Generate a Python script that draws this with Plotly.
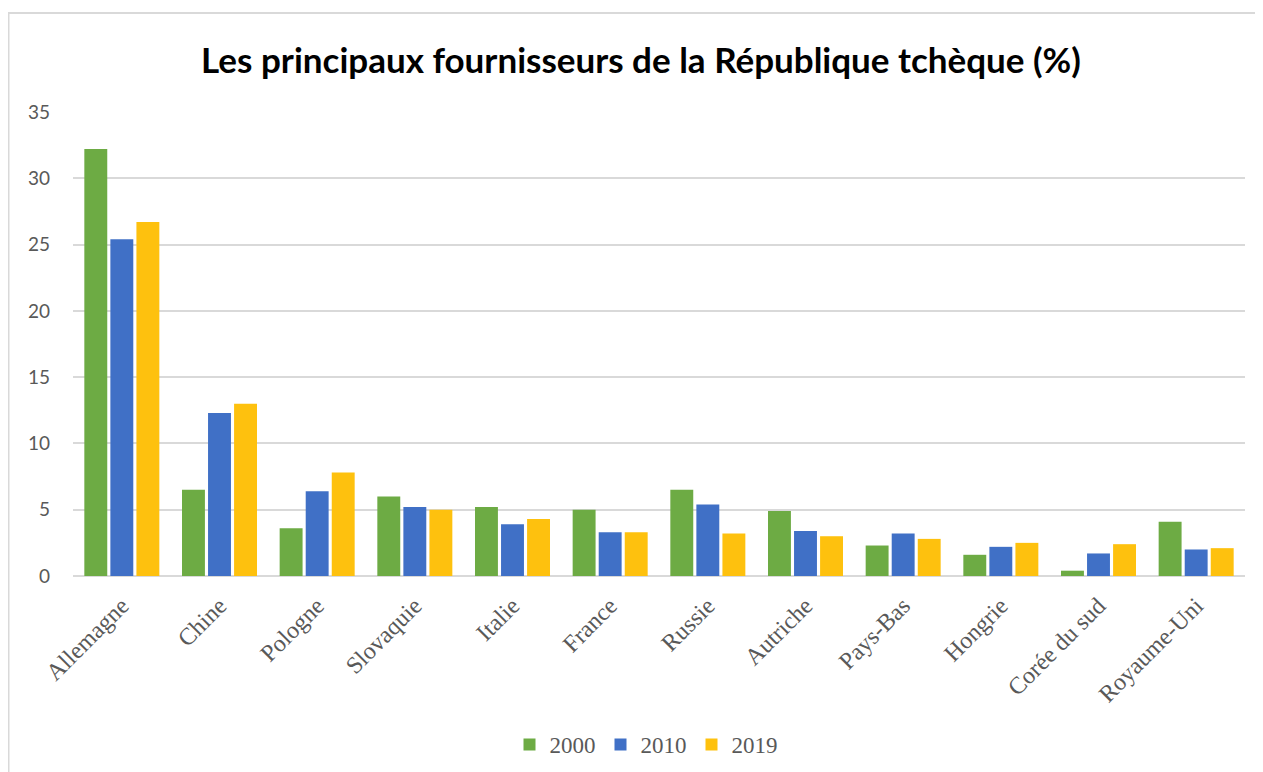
import plotly.graph_objects as go

categories = ["Allemagne", "Chine", "Pologne", "Slovaquie", "Italie", "France",
              "Russie", "Autriche", "Pays-Bas", "Hongrie", "Corée du sud", "Royaume-Uni"]
v2000 = [32.2, 6.5, 3.6, 6.0, 5.2, 5.0, 6.5, 4.9, 2.3, 1.6, 0.4, 4.1]
v2010 = [25.4, 12.3, 6.4, 5.2, 3.9, 3.3, 5.4, 3.4, 3.2, 2.2, 1.7, 2.0]
v2019 = [26.7, 13.0, 7.8, 5.0, 4.3, 3.3, 3.2, 3.0, 2.8, 2.5, 2.4, 2.1]
series_names = ["2000", "2010", "2019"]
colors = ["#6DAB44", "#4070C6", "#FEC10E"]
y_ticks = [0, 5, 10, 15, 20, 25, 30, 35]

fig = go.Figure()
for name, vals, col in zip(series_names, [v2000, v2010, v2019], colors):
    fig.add_trace(go.Bar(x=categories, y=vals, name=name,
                         marker=dict(color=col, line=dict(width=0))))

# page has an 8px body margin; figure coords = page coords - 8
OFF = 8
W, H = 1263, 772
L = 73 - OFF
T = 112 - OFF
R = W - (1245 - OFF)
B = H - (576 - OFF)
pw, ph = W - L - R, H - T - B

def px_x(px):
    return (px - OFF - L) / pw

def px_y(py):
    return (H - B - (py - OFF)) / ph

fig.update_layout(
    width=W, height=H,
    margin=dict(l=L, r=R, t=T, b=B, autoexpand=False),
    paper_bgcolor="white", plot_bgcolor="white",
    barmode="group", bargap=0.2, bargroupgap=0.12,
    title=dict(text="<b>Les principaux fournisseurs de la République tchèque (%)</b>",
               x=px_x(641), xref="paper", xanchor="center",
               y=1 - (61 - OFF) / H, yanchor="middle",
               font=dict(family="Lato, Open Sans, sans-serif", size=35, color="black")),
    xaxis=dict(tickangle=-45,
               tickfont=dict(family="Liberation Serif, Times New Roman, serif",
                             size=24, color="#595959"),
               showgrid=False, showline=False, ticks="", zeroline=False,
               ticklabelstandoff=10),
    yaxis=dict(range=[0, 35], tickvals=y_ticks,
               tickfont=dict(family="Lato, sans-serif", size=19, color="#595959"),
               showgrid=True, gridcolor="#D9D9D9", gridwidth=1.5,
               zeroline=True, zerolinecolor="#D9D9D9", zerolinewidth=2,
               showline=False, ticks="", ticklabelstandoff=22),
    legend=dict(orientation="h", x=px_x(646), xanchor="center",
                y=px_y(744.5), yanchor="middle",
                font=dict(family="Liberation Serif, Times New Roman, serif",
                          size=23, color="#595959"),
                itemwidth=30, traceorder="normal", itemclick=False),
    showlegend=True,
)

fig.add_shape(type="path", xref="paper", yref="paper",
              path=f"M {px_x(8.5)},{px_y(790)} L {px_x(8.5)},{px_y(13)} L {px_x(1290)},{px_y(13)}",
              line=dict(color="#D9D9D9", width=2))

fig.write_html("out.html")
